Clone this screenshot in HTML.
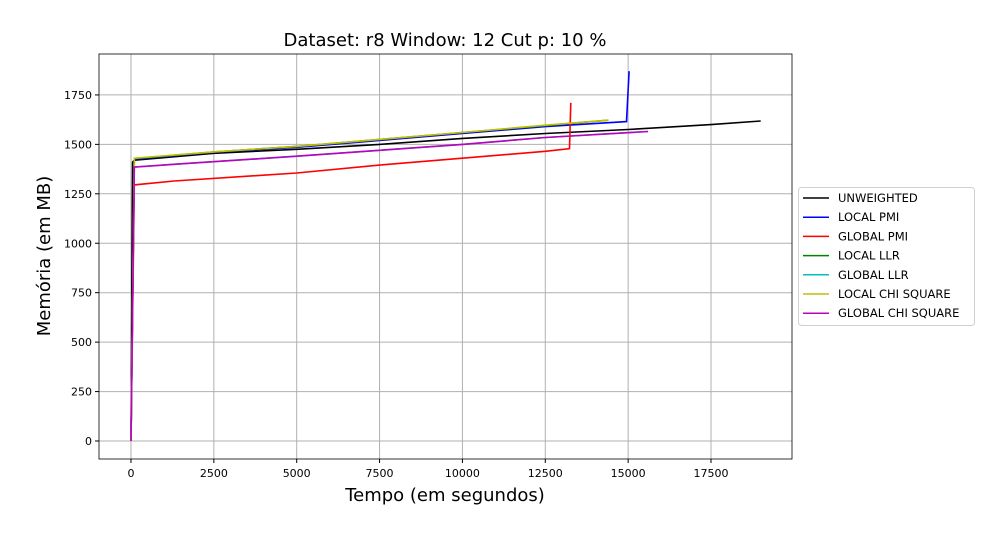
<!DOCTYPE html>
<html><head><meta charset="utf-8"><style>
body{margin:0;background:#fff;}
svg{display:block;font-family:"DejaVu Sans","Liberation Sans",sans-serif;}
</style></head><body>
<svg id="chart" width="990" height="540" viewBox="0 0 990 540"></svg>
<script>
const seriesNames=["UNWEIGHTED","LOCAL PMI","GLOBAL PMI","LOCAL LLR","GLOBAL LLR","LOCAL CHI SQUARE","GLOBAL CHI SQUARE"];
const seriesColors=["#000000","#0000ff","#ff0000","#008000","#00bfbf","#bfbf00","#bf00bf"];
const xTicks=[0,2500,5000,7500,10000,12500,15000,17500];
const yTicks=[0,250,500,750,1000,1250,1500,1750];
const unweightedX=[0,50,100,2500,5000,7500,10000,12500,15000,17500,19000];
const unweightedY=[0,1410,1420,1455,1475,1500,1530,1555,1575,1600,1618];
const localPmiX=[0,100,2500,5000,7500,10000,12500,14950,15030];
const localPmiY=[0,1425,1460,1485,1520,1555,1590,1615,1870];
const globalPmiX=[0,100,1300,5000,7500,10000,12500,13230,13270];
const globalPmiY=[0,1295,1315,1355,1395,1430,1465,1478,1710];
const localLlrX=[0,100,2500,5000,7500,10000,12500,14400];
const localLlrY=[0,1428,1462,1490,1525,1560,1595,1622];
const globalLlrX=[0,100,1400,5000,7500,10000,12500,15600];
const globalLlrY=[0,1385,1400,1440,1470,1500,1535,1565];
const localChiX=[0,100,2500,5000,7500,10000,12500,14400];
const localChiY=[0,1430,1462,1490,1525,1560,1597,1622];
const globalChiX=[0,100,1400,5000,7500,10000,12500,15600];
const globalChiY=[0,1385,1400,1440,1470,1500,1535,1565];
const allX=[unweightedX,localPmiX,globalPmiX,localLlrX,globalLlrX,localChiX,globalChiX];
const allY=[unweightedY,localPmiY,globalPmiY,localLlrY,globalLlrY,localChiY,globalChiY];

const L=99,R=792,T=54,B=459;
const xMin=-965,xMax=19944,yMin=-91,yMax=1957;
const sx=v=>L+(v-xMin)/(xMax-xMin)*(R-L);
const sy=v=>B-(v-yMin)/(yMax-yMin)*(B-T);
const svg=document.getElementById('chart');
const NS="http://www.w3.org/2000/svg";
function mk(tag,attrs,parent){const e=document.createElementNS(NS,tag);for(const k in attrs)e.setAttribute(k,attrs[k]);(parent||svg).appendChild(e);return e;}

xTicks.forEach(t=>{
  const g=mk('line',{x1:sx(t),x2:sx(t),y1:T,y2:B,stroke:'#b0b0b0','stroke-width':1});
  
  
  mk('line',{x1:sx(t),x2:sx(t),y1:B,y2:B+4,stroke:'#000'});
  const tx=mk('text',{x:sx(t),y:B+18,'font-size':11,'text-anchor':'middle'});
  tx.textContent=t;
  
  
});
yTicks.forEach(t=>{
  const g=mk('line',{x1:L,x2:R,y1:sy(t),y2:sy(t),stroke:'#b0b0b0','stroke-width':1});
  
  
  mk('line',{x1:L-4,x2:L,y1:sy(t),y2:sy(t),stroke:'#000'});
  const tx=mk('text',{x:L-7,y:sy(t)+4,'font-size':11,'text-anchor':'end'});
  tx.textContent=t;
  
  
});
allX.forEach((xs,i)=>{
  const pts=xs.map((x,j)=>sx(x).toFixed(1)+','+sy(allY[i][j]).toFixed(1)).join(' ');
  const p=mk('polyline',{points:pts,fill:'none',stroke:seriesColors[i],'stroke-width':1.6});
  
  
});
const frame=mk('rect',{x:L,y:T,width:R-L,height:B-T,fill:'none',stroke:'#000','stroke-width':0.8});



const title=mk('text',{x:445,y:46,'font-size':18,'text-anchor':'middle'});
title.textContent='Dataset: r8 Window: 12 Cut p: 10 %';


const xt=mk('text',{x:445,y:501,'font-size':18,'text-anchor':'middle'});
xt.textContent='Tempo (em segundos)';


const yt=mk('text',{x:50,y:256,'font-size':18,'text-anchor':'middle',transform:'rotate(-90 50 256)'});
yt.textContent='Memória (em MB)';



const lg=mk('rect',{x:798.5,y:187.5,width:176,height:138,rx:3,fill:'#fff',stroke:'#d0d0d0'});


seriesNames.forEach((n,i)=>{
  const y=198+i*19.2;
  const ln=mk('line',{x1:803,x2:829,y1:y,y2:y,stroke:seriesColors[i],'stroke-width':1.5});
  
  
  const t=mk('text',{x:838,y:y+4,'font-size':11.5});
  t.textContent=n;
  
  
});
</script>
</body></html>
